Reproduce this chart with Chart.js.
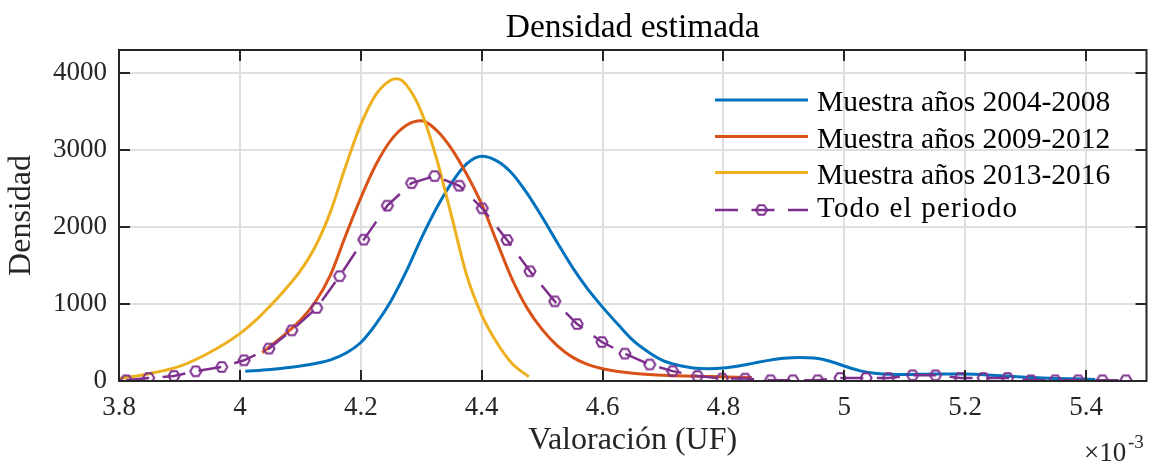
<!DOCTYPE html>
<html lang="es">
<head>
<meta charset="utf-8">
<title>Densidad estimada</title>
<script src="https://cdn.jsdelivr.net/npm/chart.js@4.4.1/dist/chart.umd.min.js"></script>
<style>
  html, body { margin: 0; padding: 0; background: #ffffff; }
  #chart { display: block; }
</style>
</head>
<body>
<canvas id="chart" width="1155" height="465"></canvas>
<script>
// Valoración en unidades de 1e-3 UF
const xTickValues = [3.8, 4, 4.2, 4.4, 4.6, 4.8, 5, 5.2, 5.4];
const xTickLabels = ['3.8', '4', '4.2', '4.4', '4.6', '4.8', '5', '5.2', '5.4'];
const yTickValues = [0, 1000, 2000, 3000, 4000];
const yTickLabels = ['0', '1000', '2000', '3000', '4000'];

const seriesNames = [
  'Muestra años 2004-2008',
  'Muestra años 2009-2012',
  'Muestra años 2013-2016',
  'Todo el periodo'
];

// Muestra 2004-2008
const x0408 = [4.009, 4.050, 4.100, 4.125, 4.150, 4.175, 4.200, 4.225, 4.250, 4.275, 4.300, 4.325, 4.350, 4.375, 4.400, 4.425, 4.450, 4.475, 4.500, 4.525, 4.550, 4.575, 4.600, 4.625, 4.650, 4.675, 4.700, 4.725, 4.750, 4.775, 4.800, 4.825, 4.850, 4.875, 4.900, 4.925, 4.950, 4.975, 5.000, 5.025, 5.050, 5.075, 5.100, 5.150, 5.200, 5.250, 5.300, 5.350, 5.415];
const y0408 = [126, 150, 195, 228, 275, 360, 500, 740, 1040, 1420, 1850, 2240, 2570, 2820, 2920, 2860, 2700, 2440, 2130, 1800, 1480, 1200, 960, 740, 530, 380, 265, 205, 170, 160, 168, 195, 232, 268, 295, 305, 298, 260, 195, 135, 100, 88, 85, 92, 90, 72, 50, 34, 20];

// Muestra 2009-2012
const x0912 = [4.037, 4.050, 4.075, 4.100, 4.125, 4.150, 4.175, 4.200, 4.225, 4.250, 4.275, 4.300, 4.325, 4.350, 4.375, 4.400, 4.425, 4.450, 4.475, 4.500, 4.525, 4.550, 4.575, 4.600, 4.650, 4.700, 4.780, 4.847];
const y0912 = [370, 450, 610, 790, 1030, 1380, 1890, 2380, 2810, 3130, 3320, 3380, 3260, 3020, 2690, 2300, 1810, 1330, 950, 670, 460, 310, 215, 160, 100, 74, 58, 44];

// Muestra 2013-2016
const x1316 = [3.800, 3.850, 3.900, 3.950, 4.000, 4.025, 4.050, 4.075, 4.100, 4.125, 4.150, 4.175, 4.200, 4.225, 4.250, 4.260, 4.275, 4.300, 4.325, 4.350, 4.375, 4.400, 4.425, 4.450, 4.478];
const y1316 = [31, 95, 190, 370, 615, 780, 975, 1190, 1430, 1750, 2200, 2790, 3330, 3720, 3910, 3927, 3850, 3500, 2900, 2150, 1380, 860, 500, 230, 55];

// Todo el periodo
const xTodo = [3.812, 3.849, 3.891, 3.927, 3.970, 4.007, 4.048, 4.086, 4.127, 4.165, 4.205, 4.244, 4.284, 4.322, 4.363, 4.401, 4.442, 4.480, 4.521, 4.558, 4.599, 4.637, 4.678, 4.716, 4.757, 4.798, 4.836, 4.878, 4.915, 4.956, 4.993, 5.036, 5.073, 5.113, 5.151, 5.192, 5.230, 5.270, 5.309, 5.349, 5.387, 5.427, 5.466];
const yTodo = [9, 39, 65, 126, 182, 269, 421, 658, 948, 1362, 1836, 2278, 2571, 2662, 2537, 2243, 1832, 1425, 1035, 740, 506, 356, 215, 128, 65, 31, 31, 9, 9, 9, 39, 39, 39, 74, 74, 39, 39, 39, 9, 9, 9, 9, 9];

const BLUE = '#0072BD';
const ORANGE = '#D95319';
const YELLOW = '#EDB120';
const PURPLE = '#7E2F8E';
const AXIS = '#262626';
const GRID = '#dfdfdf';
const SERIF = '"Liberation Serif", "Times New Roman", serif';

function toPoints(xs, ys) {
  return xs.map((x, i) => ({ x: x, y: ys[i] }));
}

// Hollow hexagon marker
function makeHexagon(color, r, lw) {
  const size = Math.ceil(2 * r + lw + 2);
  const c = document.createElement('canvas');
  c.width = size; c.height = size;
  const g = c.getContext('2d');
  g.strokeStyle = color;
  g.lineWidth = lw;
  g.lineJoin = 'round';
  g.beginPath();
  for (let k = 0; k < 6; k++) {
    const a = k * Math.PI / 3;
    const px = size / 2 + r * Math.cos(a);
    const py = size / 2 + r * Math.sin(a);
    if (k === 0) g.moveTo(px, py); else g.lineTo(px, py);
  }
  g.closePath();
  g.stroke();
  return c;
}
const hexMarker = makeHexagon(PURPLE, 5.6, 2);

// Axes box, inward ticks, legend and exponent label
const framePlugin = {
  id: 'frame',
  afterDatasetsDraw(chart) {
    const { ctx, chartArea: a, scales } = chart;
    const tl = 11;
    ctx.save();
    ctx.strokeStyle = AXIS;
    ctx.lineWidth = 2;
    ctx.strokeRect(a.left, a.top, a.right - a.left, a.bottom - a.top);
    ctx.beginPath();
    xTickValues.forEach(v => {
      const px = Math.round(scales.x.getPixelForValue(v));
      ctx.moveTo(px, a.bottom); ctx.lineTo(px, a.bottom - tl);
      ctx.moveTo(px, a.top); ctx.lineTo(px, a.top + tl);
    });
    yTickValues.forEach(v => {
      const py = Math.round(scales.y.getPixelForValue(v));
      ctx.moveTo(a.left, py); ctx.lineTo(a.left + tl, py);
      ctx.moveTo(a.right, py); ctx.lineTo(a.right - tl, py);
    });
    ctx.stroke();
    ctx.restore();
  },
  afterDraw(chart) {
    const { ctx } = chart;
    ctx.save();
    // legend
    const lx0 = 715, lx1 = 808, tx = 817;
    const rows = [
      { y: 100, base: 111, color: BLUE, name: seriesNames[0] },
      { y: 136.5, base: 147.5, color: ORANGE, name: seriesNames[1] },
      { y: 172.5, base: 183.5, color: YELLOW, name: seriesNames[2] }
    ];
    ctx.lineCap = 'butt';
    rows.forEach(r => {
      ctx.strokeStyle = r.color;
      ctx.lineWidth = 3;
      ctx.setLineDash([]);
      ctx.beginPath(); ctx.moveTo(lx0, r.y); ctx.lineTo(lx1, r.y); ctx.stroke();
      ctx.fillStyle = '#000';
      ctx.font = '29.5px ' + SERIF;
      ctx.textAlign = 'left';
      ctx.textBaseline = 'alphabetic';
      ctx.fillText(r.name, tx, r.base);
    });
    const py = 210;
    ctx.strokeStyle = PURPLE;
    ctx.lineWidth = 2.5;
    ctx.setLineDash([23, 13.5]);
    ctx.beginPath(); ctx.moveTo(lx0, py); ctx.lineTo(lx1, py); ctx.stroke();
    ctx.setLineDash([]);
    ctx.drawImage(hexMarker, 761.5 - hexMarker.width / 2, py - hexMarker.height / 2);
    ctx.fillStyle = '#000';
    ctx.font = '29px ' + SERIF;
    if ('letterSpacing' in ctx) ctx.letterSpacing = '1.2px';
    ctx.fillText(seriesNames[3], tx, 217);
    if ('letterSpacing' in ctx) ctx.letterSpacing = '0px';

    // ×10^-3 exponent
    ctx.fillStyle = AXIS;
    ctx.font = '27px ' + SERIF;
    ctx.textAlign = 'left';
    ctx.fillText('\u00d710', 1084, 461);
    ctx.font = '19px ' + SERIF;
    ctx.fillText('-3', 1128, 448);
    ctx.restore();
  }
};

const lineBase = {
  borderWidth: 3,
  pointRadius: 0,
  pointHoverRadius: 0,
  fill: false,
  cubicInterpolationMode: 'monotone'
};

new Chart(document.getElementById('chart'), {
  type: 'line',
  data: {
    datasets: [
      {
        label: seriesNames[3],
        data: toPoints(xTodo, yTodo),
        borderColor: PURPLE,
        backgroundColor: PURPLE,
        borderWidth: 2.5,
        borderDash: [23, 13.5],
        pointStyle: hexMarker,
        pointRadius: 6,
        pointHoverRadius: 6,
        tension: 0,
        fill: false,
        order: 0
      },
      Object.assign({ label: seriesNames[2], data: toPoints(x1316, y1316), borderColor: YELLOW, order: 1 }, lineBase),
      Object.assign({ label: seriesNames[1], data: toPoints(x0912, y0912), borderColor: ORANGE, order: 2 }, lineBase),
      Object.assign({ label: seriesNames[0], data: toPoints(x0408, y0408), borderColor: BLUE, order: 3 }, lineBase)
    ]
  },
  options: {
    responsive: false,
    animation: false,
    devicePixelRatio: 1,
    events: [],
    layout: { padding: { left: 0, right: 6, top: 0, bottom: 0 } },
    plugins: {
      legend: { display: false },
      tooltip: { enabled: false },
      title: {
        display: true,
        fullSize: false,
        text: 'Densidad estimada',
        color: '#000',
        font: { family: SERIF, size: 33.5, weight: 'normal', lineHeight: 1 },
        padding: { top: 11.5, bottom: 5 }
      }
    },
    scales: {
      x: {
        type: 'linear',
        min: 3.8,
        max: 5.5,
        afterBuildTicks: s => { s.ticks = xTickValues.map(v => ({ value: v })); },
        afterFit: s => { s.height = 84; },
        grid: { color: GRID, lineWidth: 2, drawTicks: false },
        border: { display: false },
        ticks: {
          padding: 11,
          color: AXIS,
          maxRotation: 0,
          autoSkip: false,
          font: { family: SERIF, size: 27, lineHeight: 1.2 },
          callback: (v, i) => xTickLabels[i]
        },
        title: {
          display: true,
          text: 'Valoración (UF)',
          color: AXIS,
          font: { family: SERIF, size: 32, lineHeight: 1 },
          padding: { top: 0, bottom: 8.5 }
        }
      },
      y: {
        type: 'linear',
        min: 0,
        max: 4300,
        afterBuildTicks: s => { s.ticks = yTickValues.map(v => ({ value: v })); },
        afterFit: s => { s.width = 119; },
        grid: { color: GRID, lineWidth: 2, drawTicks: false },
        border: { display: false },
        ticks: {
          padding: 12,
          color: AXIS,
          font: { family: SERIF, size: 27, lineHeight: 1.2 },
          callback: (v, i) => yTickLabels[i]
        },
        title: {
          display: true,
          text: 'Densidad',
          color: AXIS,
          font: { family: SERIF, size: 32, lineHeight: 1 },
          padding: { top: 6, bottom: 0 }
        }
      }
    }
  },
  plugins: [framePlugin]
});
</script>
</body>
</html>
